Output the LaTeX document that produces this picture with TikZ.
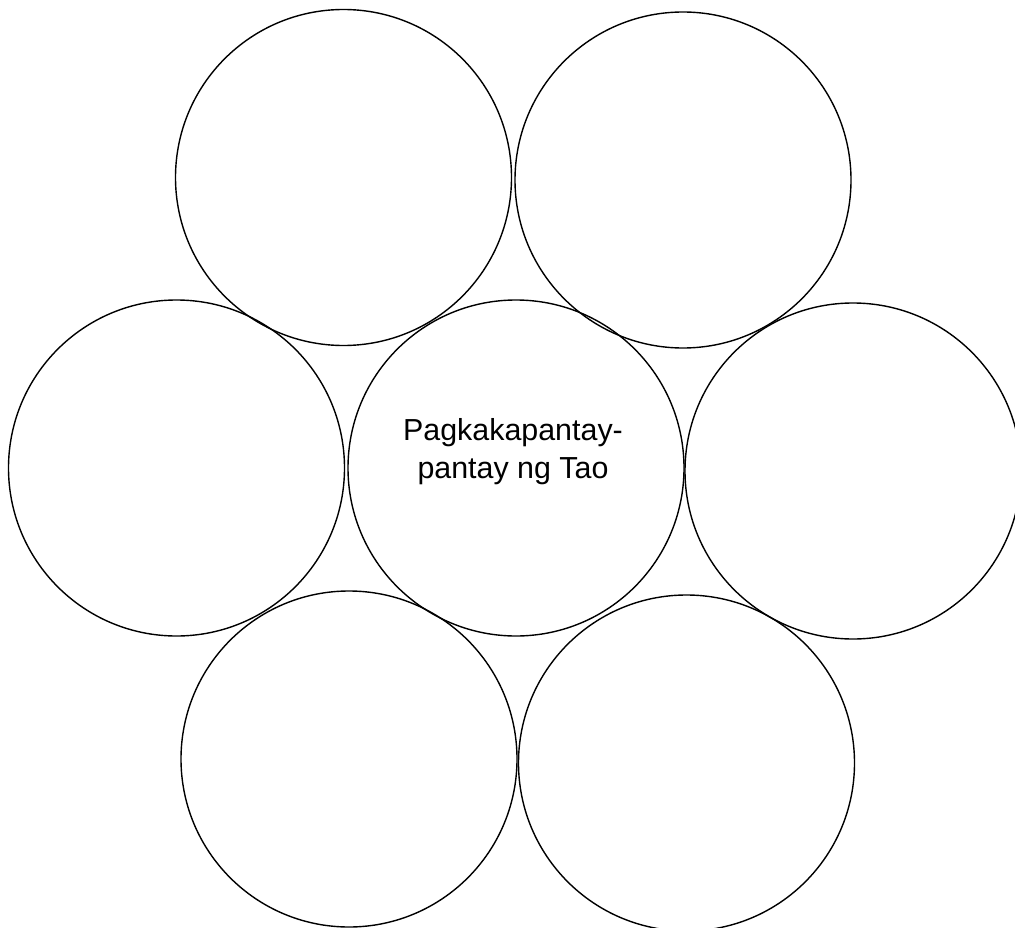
\documentclass[tikz,border=0pt]{standalone}
\usepackage{fontspec}
\setmainfont{Liberation Sans}
\begin{document}
\begin{tikzpicture}[x=1pt,y=-1pt,
  ring/.style={draw=black,line width=1.4pt,circle,minimum size=336pt,inner sep=0pt},
  lbl/.style={align=center,font=\fontsize{30.4}{38}\selectfont,inner sep=0pt}]
\useasboundingbox (0,0) rectangle (1015,928);
\clip (0,0) rectangle (1015,928);
\node[ring] (tl) at (343.5,177.5) {};
\node[ring] (tr) at (683,180) {};
\node[ring] (ml) at (176.5,468) {};
\node[ring] (c) at (516,468) {};
\node[ring] (mr) at (853,471) {};
\node[ring] (bl) at (349,759) {};
\node[ring] (br) at (686.5,763) {};
\node[lbl,anchor=base] (t) at (513,478) {Pagkakapantay-\\pantay ng Tao};
\end{tikzpicture}
\end{document}
